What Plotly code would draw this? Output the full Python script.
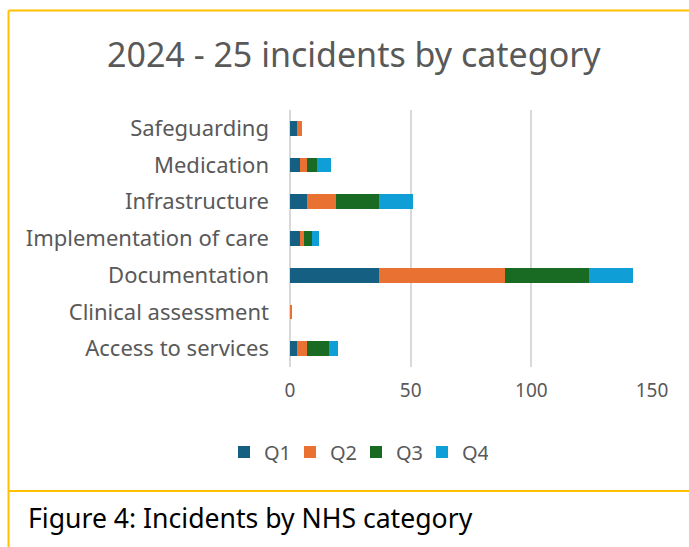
import plotly.graph_objects as go

categories = ["Access to services", "Clinical assessment", "Documentation",
              "Implementation of care", "Infrastructure", "Medication", "Safeguarding"]
q1 = [3, 0, 37, 4, 7, 4, 3]
q2 = [4, 1, 52, 2, 12, 3, 2]
q3 = [9, 0, 35, 3, 18, 4, 0]
q4 = [4, 0, 18, 3, 14, 6, 0]
series_names = ["Q1", "Q2", "Q3", "Q4"]
series_values = [q1, q2, q3, q4]
colors = ["#156082", "#E97132", "#196B24", "#0F9ED5"]
x_ticks = [0, 50, 100, 150]

W, H = 689, 547
ML, MR, MT, MB = 290, 37, 110, 180
PW, PH = W - ML - MR, H - MT - MB

def px_x(p):
    return (p - ML) / PW

def px_y(p):
    return 1 - (p - MT) / PH

FONT = "Noto Sans"
GREY = "#595959"

fig = go.Figure()
for name, vals, col in zip(series_names, series_values, colors):
    fig.add_trace(go.Bar(y=categories, x=vals, name=name, orientation="h",
                         marker=dict(color=col, line=dict(width=0))))

yellow = "#FFC000"
shapes = [
    dict(type="line", xref="paper", yref="paper", x0=px_x(8.5), x1=px_x(700),
         y0=px_y(10.5), y1=px_y(10.5), line=dict(color=yellow, width=2)),
    dict(type="line", xref="paper", yref="paper", x0=px_x(8.5), x1=px_x(8.5),
         y0=px_y(10.5), y1=px_y(560), line=dict(color=yellow, width=2)),
    dict(type="line", xref="paper", yref="paper", x0=px_x(8.5), x1=px_x(700),
         y0=px_y(491), y1=px_y(491), line=dict(color=yellow, width=2)),
]

annotations = [
    dict(text="2024 - 25 incidents by category", xref="paper", yref="paper",
         x=px_x(354), y=px_y(54), xanchor="center", yanchor="middle",
         showarrow=False, font=dict(family=FONT, size=34, color=GREY)),
    dict(text="Figure 4: Incidents by NHS category", xref="paper", yref="paper",
         x=px_x(26), y=px_y(518), xanchor="left", yanchor="middle",
         showarrow=False, font=dict(family=FONT, size=26.6, color="#000000")),
]

fig.update_layout(
    width=W, height=H,
    margin=dict(l=ML, r=MR, t=MT, b=MB),
    paper_bgcolor="white", plot_bgcolor="white",
    barmode="stack", bargap=0.6,
    shapes=shapes, annotations=annotations,
    showlegend=True,
    legend=dict(orientation="h", x=px_x(356), y=px_y(452), xanchor="center",
                yanchor="middle", font=dict(family=FONT, size=20, color=GREY),
                traceorder="normal", itemwidth=30,
                entrywidth=21, entrywidthmode="pixels"),
    xaxis=dict(range=[0, 150], tickvals=x_ticks, showgrid=True,
               gridcolor="#D9D9D9", gridwidth=1.5, zeroline=True,
               zerolinecolor="#D9D9D9", zerolinewidth=1.5, showline=False,
               ticks="", ticklabelstandoff=10,
               tickfont=dict(family=FONT, size=19, color=GREY), fixedrange=True),
    yaxis=dict(type="category", categoryorder="array", categoryarray=categories,
               showgrid=False, showline=False, ticks="", ticklabelstandoff=20,
               tickfont=dict(family=FONT, size=22, color=GREY), fixedrange=True),
)

fig.write_html("out.html")
